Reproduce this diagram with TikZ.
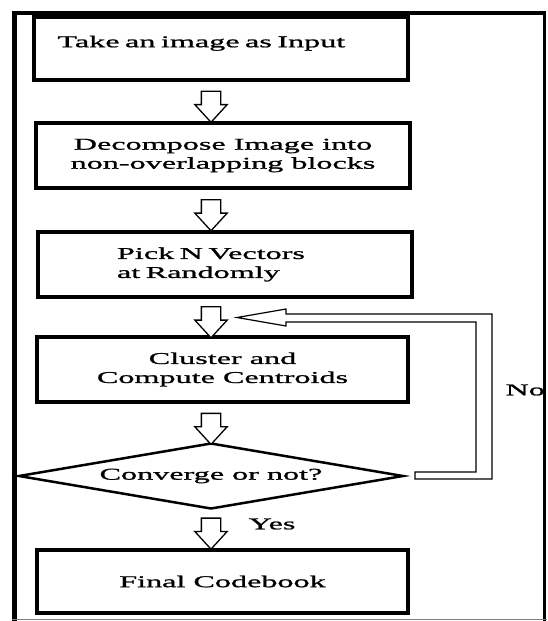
\documentclass[tikz,border=0pt]{standalone}
\usepackage{fontspec}
\setmainfont[FakeStretch=1.95, FakeBold=1.2]{Liberation Serif}
\usetikzlibrary{shapes.geometric,shapes.arrows,calc}
\tikzset{
	procbox/.style={
		rectangle,
		draw=black, line width=3.5pt,
		minimum width=374pt,
		minimum height=65pt,
		inner sep=0pt},
	decision/.style={
		diamond,
		draw=black, line width=2.5pt,
		aspect=5.9,
		minimum width=384pt,
		minimum height=65pt,
		inner sep=0pt, outer sep=0pt},
	downarrow/.style={
		single arrow,
		draw=black, line width=1.3pt, fill=white,
		rotate=-90,
		minimum height=31pt,
		inner xsep=0pt, inner ysep=9pt,
		single arrow head extend=6.5pt,
		single arrow tip angle=85},
	loopline/.style={draw=black, line width=1.2pt, line join=miter},
}

\begin{document}
\begin{tikzpicture}[x=1pt, y=-1pt, font=\fontsize{16.5}{19}\selectfont]
	\useasboundingbox (0,0) rectangle (547,621);

	% outer frame round the whole chart
	\draw[line width=4.5pt] (14.5,621) -- (14.5,13) -- (546,13);
	\draw[line width=3pt] (544.5,11) -- (544.5,621);
	\draw[gray, line width=1.5pt] (12,619.5) -- (547,619.5);

	% the steps, top to bottom
	\node[procbox, minimum height=63pt, text width=327pt, align=left, text depth=14pt]
		(input) at (221,48.5) {\mbox{Take an image as Input}};
	\node[procbox, align=center]
		(decomp) at (223,155.5) {Decompose Image into\\non-overlapping blocks};
	\node[procbox, text width=216pt, align=left]
		(pick) at (225,264.5) {\mbox{Pick N Vectors}\\\mbox{at Randomly}};
	\node[procbox, minimum width=371pt, align=center]
		(cluster) at (222.5,369.5) {Cluster and\\Compute Centroids};
	\node[decision] (conv) at (211,476) {Converge or not?};
	\node[procbox, minimum width=371pt, minimum height=63pt]
		(final) at (222.5,581.5) {Final Codebook};

	% hollow arrows between the steps
	\node[downarrow] (a1) at ($(input.south -| conv.north)!.5!(decomp.north -| conv.north)$) {};
	\node[downarrow] (a2) at ($(decomp.south -| conv.north)!.5!(pick.north -| conv.north)$) {};
	\node[downarrow] (a3) at ($(pick.south -| conv.north)!.5!(cluster.north -| conv.north)$) {};
	\node[downarrow] (a4) at ($(cluster.south -| conv.north)!.5!(conv.north)$) {};
	\node[downarrow] (a5) at ($(conv.south)!.5!(final.north -| conv.south)$) {};
	\node (yes) at (272,524) {Yes};

	% loop back when not converged
	\coordinate (fbtip) at (237,317.5);
	\draw[loopline] ($(conv.east)+(12,-4)$) -- ++(61,0) -- ++(0,-150) -- ++(-190,0)
		-- ++(0,4) -- (fbtip) -- ++(49,-8.5) -- ++(0,5) -- ++(206,0) -- ++(0,165)
		-- ++(-77,0) -- cycle;
	\node[anchor=west] (no) at (502,390) {No};
\end{tikzpicture}
\end{document}
